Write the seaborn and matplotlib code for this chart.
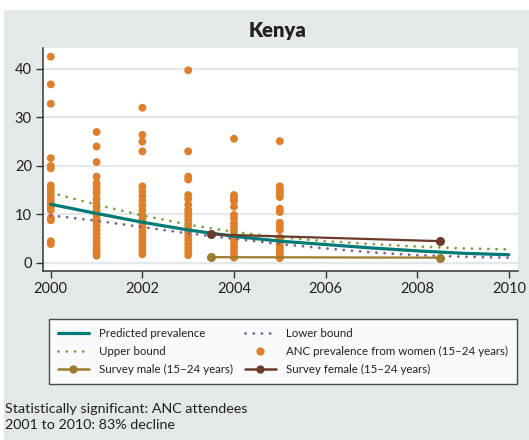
import matplotlib
matplotlib.use("Agg")
import matplotlib.pyplot as plt
from matplotlib.patches import Rectangle
from matplotlib.lines import Line2D
import seaborn as sns
import pandas as pd

# ---------------- data ----------------
years = [2000, 2001, 2002, 2003, 2004, 2005, 2006, 2007, 2008, 2009, 2010]
predicted = [12.1, 10.2, 8.4, 6.8, 5.5, 4.5, 3.8, 3.1, 2.5, 2.0, 1.7]
upper = [14.5, 12.0, 9.8, 7.9, 6.4, 5.3, 4.5, 3.9, 3.4, 3.0, 2.8]
lower = [9.8, 8.7, 7.4, 6.1, 5.0, 3.9, 3.0, 2.2, 1.6, 1.3, 1.1]

anc_2000 = [42.5, 36.8, 32.8, 21.6, 20.0, 19.5, 16.0, 15.2, 14.5, 13.8, 13.0,
            12.3, 11.6, 10.9, 9.3, 8.8, 4.5, 3.9]
anc_2001 = [27.0, 24.0, 20.8, 17.8, 16.5, 15.9, 15.2, 14.3, 13.2, 12.3, 11.6,
            10.8, 10.0, 9.2, 8.4, 7.6, 6.8, 6.0, 5.2, 4.4, 3.6, 2.8, 2.0, 1.5]
anc_2002 = [32.0, 26.4, 25.0, 23.0, 15.8, 14.8, 13.8, 12.8, 11.8, 10.8, 9.8,
            9.0, 8.2, 7.4, 6.6, 5.8, 5.0, 4.2, 3.4, 2.6, 1.8]
anc_2003 = [39.7, 23.0, 17.8, 17.2, 14.0, 13.2, 12.0, 11.0, 10.3, 9.6, 8.8,
            8.0, 7.2, 6.4, 5.6, 4.8, 4.0, 3.2, 2.4, 1.6]
anc_2004 = [25.6, 14.0, 13.4, 12.8, 11.6, 9.9, 9.2, 8.2, 7.4, 6.6, 5.8, 5.0,
            4.2, 3.4, 2.6, 1.8, 1.1]
anc_2005 = [25.1, 15.8, 15.2, 14.7, 14.1, 13.6, 11.2, 10.5, 8.3, 7.6, 6.8,
            5.2, 4.6, 4.0, 3.4, 2.8, 2.2, 1.6, 1.0]
anc_years = [2000, 2001, 2002, 2003, 2004, 2005]

survey_years = [2003.5, 2008.5]
survey_male = [1.2, 1.1]
survey_female = [5.9, 4.5]

x_ticks = [2000, 2002, 2004, 2006, 2008, 2010]
y_ticks = [0, 10, 20, 30, 40]

title = "Kenya"
note_lines = ["Statistically significant: ANC attendees",
              "2001 to 2010: 83% decline"]

# ---------------- style ----------------
BG = "#e3e8e8"
TEAL = "#007a76"
ORANGE = "#e07f2a"
GREEN = "#7aa33c"
PURPLE = "#7d5f95"
MALE = "#9c7b2f"
FEMALE = "#6a3a2b"
TXT = "#231f20"
DOT = (0, (0.05, 2.9))

sns.set_theme(style="white")
plt.rcParams["font.family"] = ["Lato", "DejaVu Sans"]

fig = plt.figure(figsize=(5.29, 4.4), dpi=100, facecolor="white")
fig.patches.append(Rectangle((4 / 529, 0), 1, 430 / 440, transform=fig.transFigure,
                             facecolor=BG, edgecolor="none", zorder=-10))

ax = fig.add_axes([43 / 529, 1 - 271 / 440, (518 - 43) / 529, (271 - 48) / 440])
ax.set_facecolor("white")

# gridlines
for yv in y_ticks:
    ax.axhline(yv, color=BG, lw=1.6, zorder=0)

anc_rows = []
for yr, vals in zip(anc_years, [anc_2000, anc_2001, anc_2002, anc_2003, anc_2004, anc_2005]):
    for v in vals:
        anc_rows.append({"year": yr, "value": v})
anc_df = pd.DataFrame(anc_rows)

trend_df = pd.DataFrame({"year": years, "predicted": predicted, "upper": upper, "lower": lower})
survey_df = pd.DataFrame({"year": survey_years, "male": survey_male, "female": survey_female})

sns.scatterplot(data=anc_df, x="year", y="value", ax=ax, color=ORANGE, s=32,
                edgecolor="none", zorder=3, legend=False)
sns.lineplot(data=trend_df, x="year", y="upper", ax=ax, color=GREEN, lw=2.0,
             linestyle=DOT, dash_capstyle="round", zorder=4, legend=False)
sns.lineplot(data=trend_df, x="year", y="lower", ax=ax, color=PURPLE, lw=2.0,
             linestyle=DOT, dash_capstyle="round", zorder=4, legend=False)
sns.lineplot(data=trend_df, x="year", y="predicted", ax=ax, color=TEAL, lw=2.3,
             zorder=5, legend=False)
sns.lineplot(data=survey_df, x="year", y="male", ax=ax, color=MALE, lw=1.6,
             marker="o", markersize=6.5, markeredgewidth=0, zorder=6, legend=False)
sns.lineplot(data=survey_df, x="year", y="female", ax=ax, color=FEMALE, lw=1.6,
             marker="o", markersize=6.5, markeredgewidth=0, zorder=6, legend=False)

ax.set_xlim(1999.83, 2010.2)
ax.set_ylim(-1.65, 44.3)
ax.set_xticks(x_ticks)
ax.set_yticks(y_ticks)
ax.set_xlabel("")
ax.set_ylabel("")
ax.tick_params(axis="both", which="major", direction="out", length=5, width=1,
               color="#333333", labelsize=10.5, labelcolor=TXT, pad=3, left=True, bottom=True)
for s in ["top", "right"]:
    ax.spines[s].set_visible(False)
for s in ["left", "bottom"]:
    ax.spines[s].set_color("#333333")
    ax.spines[s].set_linewidth(1.1)
ax.grid(False)

fig.text(277 / 529, 1 - 30 / 440, title, ha="center", va="center", fontsize=14.5,
         fontweight="heavy", color=TXT)

handles = [
    Line2D([], [], color=TEAL, lw=2.3),
    Line2D([], [], color=GREEN, lw=2.0, linestyle=DOT, dash_capstyle="round"),
    Line2D([], [], color=MALE, lw=1.8, marker="o", markersize=6, markeredgewidth=0),
    Line2D([], [], color=PURPLE, lw=2.0, linestyle=DOT, dash_capstyle="round"),
    Line2D([], [], color=ORANGE, lw=0, marker="o", markersize=6, markeredgewidth=0),
    Line2D([], [], color=FEMALE, lw=1.8, marker="o", markersize=6, markeredgewidth=0),
]
labels = ["Predicted prevalence", "Upper bound", "Survey male (15\u201324 years)",
          "Lower bound", "ANC prevalence from women (15\u201324 years)",
          "Survey female (15\u201324 years)"]
leg = fig.legend(handles, labels, ncol=2, loc="upper left",
                 bbox_to_anchor=(49 / 529, 1 - 319 / 440), bbox_transform=fig.transFigure,
                 frameon=True, fancybox=False, edgecolor="#231f20", facecolor="white",
                 fontsize=8.3, handlelength=2.7, handletextpad=0.9, columnspacing=1.0,
                 labelspacing=0.62, borderpad=0.75, borderaxespad=0)
leg.get_frame().set_linewidth(1.0)
for t in leg.get_texts():
    t.set_color(TXT)

fig.text(5 / 529, 1 - 409 / 440, note_lines[0], ha="left", va="center", fontsize=10.3, color=TXT)
fig.text(5 / 529, 1 - 425 / 440, note_lines[1], ha="left", va="center", fontsize=10.3, color=TXT)

fig.savefig("out.png", dpi=100, facecolor="white")
